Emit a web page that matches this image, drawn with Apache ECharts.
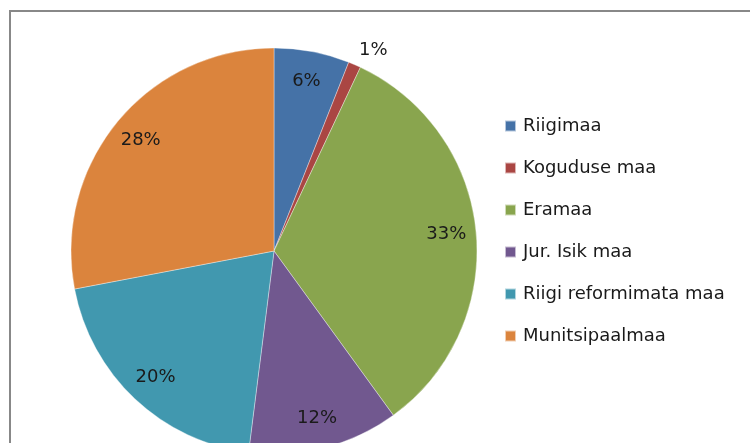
<!DOCTYPE html>
<html><head><meta charset="utf-8">
<script src="https://cdn.jsdelivr.net/npm/echarts@6/dist/echarts.min.js"></script>
<style>html,body{margin:0;padding:0;background:#fff}#c{width:750px;height:443px}</style>
</head><body><div id="c"></div>
<script>
const categories = ['Riigimaa','Koguduse maa','Eramaa','Jur. Isik maa','Riigi reformimata maa','Munitsipaalmaa'];
const values = [6, 1, 33, 12, 20, 28];
const colors = ['#4572A7','#AA4643','#89A54E','#71588F','#4198AF','#DB843D'];
const outsideLabelIndex = 1;

const FONT = 'DejaVu Sans';
const chart = echarts.init(document.getElementById('c'));
const mainData = categories.map((n,i)=>({
  name:n, value:values[i],
  itemStyle:{color:colors[i]},
  label:{show:i===outsideLabelIndex}
}));
const labelData = categories.map((n,i)=>({
  name:n, value:values[i],
  label:{show:i!==outsideLabelIndex}
}));
chart.setOption({
  animation:false,
  graphic:[{type:'rect',shape:{x:10,y:11,width:800,height:500},style:{fill:'none',stroke:'#888',lineWidth:2},z:-1}],
  legend:{
    orient:'vertical', left:499, top:110,
    icon:'rect', itemWidth:11, itemHeight:11, itemGap:20,
    textStyle:{fontFamily:FONT, fontSize:18, color:'#1a1a1a', lineHeight:22, padding:[0,0,0,2]},
    data:categories
  },
  series:[
    {
      type:'pie', center:[274,251], radius:[0,203], startAngle:90, clockwise:true,
      data:mainData, silent:true,
      itemStyle:{borderColor:'rgba(255,255,255,0.6)', borderWidth:0.6},
      label:{position:'outside', formatter:'{d}%', fontFamily:FONT, fontSize:18, color:'#1a1a1a'},
      labelLine:{show:false, length:16, length2:0},
      labelLayout:{dx:-7},
      emphasis:{disabled:true}
    },
    {
      type:'pie', center:[274,251], radius:[0,340], startAngle:90, clockwise:true,
      data:labelData, silent:true, legendHoverLink:false,
      itemStyle:{color:'rgba(0,0,0,0)'},
      label:{position:'inside', formatter:'{d}%', fontFamily:FONT, fontSize:18, color:'#1a1a1a'},
      labelLine:{show:false},
      emphasis:{disabled:true}
    }
  ]
});
</script></body></html>
